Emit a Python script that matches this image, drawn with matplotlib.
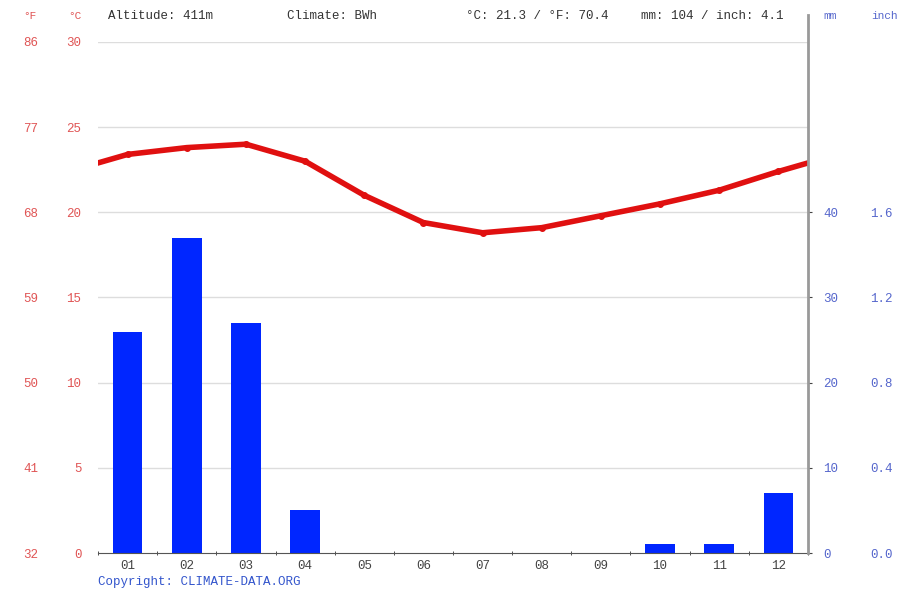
import numpy as np
from matplotlib import pyplot as plt
from matplotlib.lines import Line2D

# climate data
months = ['01', '02', '03', '04', '05', '06', '07', '08', '09', '10', '11', '12']
temp_c = [23.4, 23.8, 24.0, 23.0, 21.0, 19.4, 18.8, 19.1, 19.8, 20.5, 21.3, 22.4]
precip_mm = [26, 37, 27, 5, 0, 0, 0, 0, 0, 1, 1, 7]

c_ticks = [0, 5, 10, 15, 20, 25, 30]
f_labels = ['32', '41', '50', '59', '68', '77', '86']
mm_ticks = [0, 10, 20, 30, 40]
inch_labels = ['0.0', '0.4', '0.8', '1.2', '1.6']

header = ['Altitude: 411m', 'Climate: BWh', '°C: 21.3 / °F: 70.4', 'mm: 104 / inch: 4.1']

mono = 'Liberation Mono'
red_txt = '#e05555'
blue_txt = '#5566cc'

fig = plt.figure(figsize=(9.04, 5.92), dpi=100)
W, H = 904, 592
ax = fig.add_axes([98 / W, 1 - 553 / H, 710 / W, 511 / H])

x = np.arange(1, 13)

# precipitation bars on a twin axis (mm = 2 * degC)
ax2 = ax.twinx()
ax2.set_ylim(0, 60)
# grid under the bars
for v in c_ticks[1:]:
    ax2.axhline(v * 2, color='#dddddd', lw=1, zorder=0)
ax2.bar(x, precip_mm, width=0.5, color='#0026ff', zorder=2)

# temperature line, wrapped round the year so it runs to the edges
xt = np.concatenate([[0], x, [13]])
yt = np.concatenate([[temp_c[-1]], temp_c, [temp_c[0]]])
ax.plot(xt, yt, color='#e01010', lw=4, marker='o', ms=4, zorder=5)
ax.set_zorder(ax2.get_zorder() + 1)
ax.patch.set_visible(False)

ax.set_xlim(0.5, 12.5)
ax.set_ylim(0, 30)
ax2.set_xlim(0.5, 12.5)

for a in (ax, ax2):
    for s in ['top', 'right', 'left']:
        a.spines[s].set_visible(False)
ax.spines['bottom'].set_color('#555555')
ax2.spines['bottom'].set_visible(False)

ax.set_xticks(x, months, fontfamily=mono, fontsize=9, color='#444444')
ax.set_xticks(np.arange(0.5, 13.5, 1), minor=True)
ax.tick_params(axis='x', which='major', length=0, pad=5)
ax.tick_params(axis='x', which='minor', length=3, direction='inout', color='#333333')

ax.set_yticks(c_ticks, [str(v) for v in c_ticks], fontfamily=mono, fontsize=9, color=red_txt)
ax.tick_params(axis='y', length=0, pad=12)

fax = ax.secondary_yaxis(-0.0845, functions=(lambda v: v, lambda v: v))
fax.set_yticks(c_ticks, f_labels, fontfamily=mono, fontsize=9, color=red_txt)
fax.tick_params(axis='y', length=0, pad=0)
fax.spines['left'].set_visible(False)

ax2.set_yticks(mm_ticks, [str(v) for v in mm_ticks], fontfamily=mono, fontsize=9, color=blue_txt)
ax2.tick_params(axis='y', length=3, color='#444444', pad=8)

iax = ax2.secondary_yaxis(1.087, functions=(lambda v: v, lambda v: v))
iax.set_yticks(mm_ticks, inch_labels, fontfamily=mono, fontsize=9, color=blue_txt)
iax.tick_params(axis='y', length=0, pad=0)
iax.spines['right'].set_visible(False)

# gray right-hand axis line
fig.add_artist(Line2D([808 / W, 808 / W], [1 - 15 / H, 1 - 553 / H], color='#999999', lw=2))

# unit labels and header
fig.text(30 / W, 1 - 16 / H, '°F', color=red_txt, fontfamily=mono, fontsize=8, ha='center', va='center')
fig.text(75 / W, 1 - 16 / H, '°C', color=red_txt, fontfamily=mono, fontsize=8, ha='center', va='center')
fig.text(830 / W, 1 - 16 / H, 'mm', color=blue_txt, fontfamily=mono, fontsize=8, ha='center', va='center')
fig.text(884 / W, 1 - 16 / H, 'inch', color=blue_txt, fontfamily=mono, fontsize=8, ha='center', va='center')

for xp, t in zip([108, 287, 466, 641], header):
    fig.text(xp / W, 1 - 16 / H, t, color='#333333', fontfamily=mono, fontsize=9, va='center')

fig.text(98 / W, 1 - 582 / H, 'Copyright: CLIMATE-DATA.ORG', color='#3355cc', fontfamily=mono,
         fontsize=9, va='center')

plt.savefig('out.png', dpi=100)
